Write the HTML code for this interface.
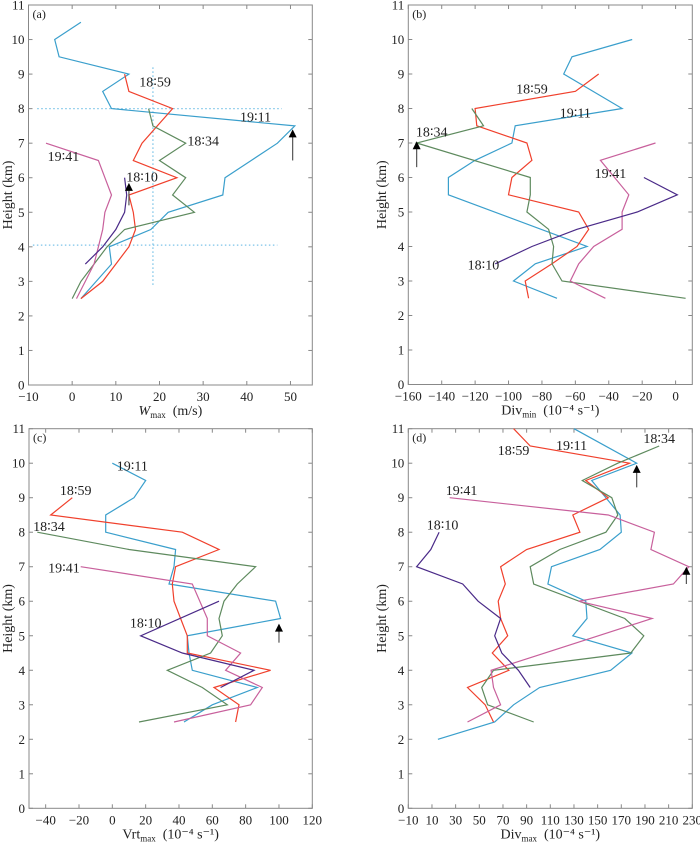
<!DOCTYPE html>
<html><head><meta charset="utf-8">
<style>
body{margin:0;background:#fff;}
svg{display:block;font-family:"Liberation Serif",serif;}
</style></head>
<body>
<svg id="chart" width="700" height="842" viewBox="0 0 700 842"></svg>
<script>
// ---- data ----
const heightTicks=[0,1,2,3,4,5,6,7,8,9,10,11];
const aTicks=[-10,0,10,20,30,40,50];
const bTicks=[-160,-140,-120,-100,-80,-60,-40,-20,0];
const cTicks=[-40,-20,0,20,40,60,80,100,120];
const dTicks=[-10,10,30,50,70,90,110,130,150,170,190,210,230];
const seriesNames=["19:11","18:59","18:34","19:41","18:10"];
const seriesColors=["#3a9fcc","#f0402c","#5e8a5e","#c8609c","#4a2a88"];

const aH_1911=[10.5,10,9.5,9,8.5,8,7.5,7,6.5,6,5.5,5,4.5,4,3.5,2.5];
const aV_1911=[2,-4,-3,13,7,9,51,47,41,35,34.5,22,18,8.5,9,2];
const aH_1859=[9,8.5,8,7,6.5,6,5.5,5,4.5,4,3.5,3,2.5];
const aV_1859=[12,13,23,16,14,24,13,14,14.5,13,10,7,2];
const aH_1834=[8,7.5,7,6.5,6,5.5,5,4.5,4,3.5,3,2.5];
const aV_1834=[17.5,18.5,26,20,26,23,28,12,8,5,2,0];
const aH_1941=[7,6.5,6,5.5,5,4.5,4,3.5,3,2.5];
const aV_1941=[-6,6,7.5,9,7.5,7,6,5,3,1];
const aH_1810=[6,5.5,5,4.5,4,3.5];
const aV_1810=[12,12.5,12,10,7,3];

const bH_1911=[10,9.5,9,8,7.5,7,6.5,6,5.5,4,3.5,3,2.5];
const bV_1911=[-26,-62,-67,-32,-96,-98,-120,-136,-136,-53,-84,-97,-71];
const bH_1859=[9,8.5,8,7.5,7,6.5,6,5.5,5,4.5,4,3.5,3,2.5];
const bV_1859=[-46,-60,-120,-119,-89,-86,-98,-100,-58,-52,-59,-74,-90,-88];
const bH_1834=[8,7.5,7,6,5.5,5,4.5,4,3.5,3,2.5];
const bV_1834=[-122,-115,-155,-87,-87,-89,-76,-73,-74,-68,6];
const bH_1941=[7,6.5,5.5,5,4.5,4,3.5,3,2.5];
const bV_1941=[-12,-45,-28,-32,-32,-49,-58,-63,-42];
const bH_1810=[6,5.5,5,4.5,4,3.5];
const bV_1810=[-19,1,-23,-59,-86,-108];

const cH_1911=[10,9.5,9,8.5,8,7.5,7,6.5,6,5.5,5,4.5,4,3.5,3,2.5];
const cV_1911=[0,20,13,-4,-4,38,37,34,98,101,45,46,48,87,60,43];
const cH_1859=[9,8.5,8,7.5,7,6.5,6,5.5,5,4.5,4,3.5,3,2.5];
const cV_1859=[-24,-37,42,64,38,36,37,41,45,45,95,61,76,74];
const cH_1834=[8,7.5,7,6.5,6,5.5,5,4.5,4,3.5,3,2.5];
const cV_1834=[-45,10,86,75,67,64,66,59,33,54,69,16];
const cH_1941=[7,6.5,5.5,5,4.5,4,3.5,3,2.5];
const cV_1941=[-19,48,57,57,77,68,90,83,37];
const cH_1810=[6,5,4.5,4,3.5];
const cV_1810=[64,17,42,85,65];

const dH_1911=[11,10,9.5,8.5,8,7.5,7,6.5,6,5.5,5,4.5,4,3.5,3,2.5,2];
const dV_1911=[130,183,145,169,170,152,111,108,140,141,129,179,161,101,79,63,15];
const dH_1859=[11,10.5,10,9.5,9,8.5,8,7.5,7,6.5,6,5.5,5,4.5,4,3.5,3,2.5];
const dV_1859=[79,93,177,140,159,129,135,90,68,72,66,68,74,61,75,40,55,62];
const dH_1834=[10.5,10,9.5,9,8.5,8,7.5,7,6.5,5.5,5,4.5,4,3.5,3,2.5];
const dV_1834=[202,167,137,162,167,157,118,93,96,173,189,178,62,52,57,96];
const dH_1941=[9,8.5,8,7.5,7,6.5,6,5.5,4,3.5,3,2.5];
const dV_1941=[25,159,198,195,227,214,134,196,60,62,68,40];
const dH_1810=[8,7.5,7,6.5,6,5.5,5,4.5,4,3.5];
const dV_1810=[16,9,-3,36,49,68,63,69,83,93];

// label anchor positions in series order: 19:11, 18:59, 18:34, 19:41, 18:10
const labelsA=[[42,7.75],[19,8.75],[30,7.05],[-2,6.6],[16,6.0]];
const labelsB=[[-60,7.85],[-86,8.55],[-146,7.3],[-39,6.1],[-115,3.45]];
const labelsC=[[12,9.9],[-22,9.2],[-38,8.15],[-29,6.95],[20,5.35]];
const labelsD=[[128,10.5],[79,10.35],[202,10.7],[35,9.2],[19,8.2]];
// ---- geometry ----
const NS="http://www.w3.org/2000/svg";
const svg=document.getElementById('chart');
function mk(tag,attrs,parent){const e=document.createElementNS(NS,tag);for(const k in attrs)e.setAttribute(k,attrs[k]);(parent||svg).appendChild(e);return e;}

const panels=[
 {id:'a',L:28.5,R:312.3,T:5,B:385,xmin:-10,xmax:55,ticks:aTicks,
  series:[[aV_1911,aH_1911],[aV_1859,aH_1859],[aV_1834,aH_1834],[aV_1941,aH_1941],[aV_1810,aH_1810]],
  labels:labelsA,arrows:[[50.5,7.4,6.5],[13,5.85,5.2]],title:['W','max',' (m/s)'],ylx:12},
 {id:'b',L:408.3,R:692.3,T:5,B:384.5,xmin:-160,xmax:10,ticks:bTicks,
  series:[[bV_1911,bH_1911],[bV_1859,bH_1859],[bV_1834,bH_1834],[bV_1941,bH_1941],[bV_1810,bH_1810]],
  labels:labelsB,arrows:[[-155,7.05,6.3]],title:['Div','min',' (10⁻⁴ s⁻¹)'],ylx:386},
 {id:'c',L:29,R:312.3,T:428.7,B:808.3,xmin:-50,xmax:120,ticks:cTicks,
  series:[[cV_1911,cH_1911],[cV_1859,cH_1859],[cV_1834,cH_1834],[cV_1941,cH_1941],[cV_1810,cH_1810]],
  labels:labelsC,arrows:[[100,5.35,4.8]],title:['Vrt','max',' (10⁻⁴ s⁻¹)'],ylx:12},
 {id:'d',L:408.3,R:692.3,T:428.7,B:808.3,xmin:-10,xmax:230,ticks:dTicks,
  series:[[dV_1911,dH_1911],[dV_1859,dH_1859],[dV_1834,dH_1834],[dV_1941,dH_1941],[dV_1810,dH_1810]],
  labels:labelsD,arrows:[[183,9.95,9.3],[225,7.0,6.5]],title:['Div','max',' (10⁻⁴ s⁻¹)'],ylx:386}
];

panels.forEach(p=>{
 const g=mk('g',{});
 
 
 const X=v=>p.L+(v-p.xmin)/(p.xmax-p.xmin)*(p.R-p.L);
 const Y=h=>p.B-h/11*(p.B-p.T);
 const fr=mk('rect',{x:p.L,y:p.T,width:p.R-p.L,height:p.B-p.T,fill:'none',stroke:'#888','stroke-width':1},g);
 
 
 heightTicks.forEach(h=>{
  const y=Y(h);
  mk('line',{x1:p.L,x2:p.L+4,y1:y,y2:y,stroke:'#888'},g);
  mk('line',{x1:p.R,x2:p.R-4,y1:y,y2:y,stroke:'#888'},g);
  const t=mk('text',{x:p.L-4,y:y+4.5,'text-anchor':'end','font-size':13,fill:'#222'},g);
  t.textContent=h;
  
  
 });
 p.ticks.forEach(v=>{
  const x=X(v);
  mk('line',{x1:x,x2:x,y1:p.B,y2:p.B-4,stroke:'#888'},g);
  mk('line',{x1:x,x2:x,y1:p.T,y2:p.T+4,stroke:'#888'},g);
  const t=mk('text',{x:x,y:p.B+16,'text-anchor':'middle','font-size':13,fill:'#222'},g);
  t.textContent=(v<0?'−'+(-v):v);
  
  
 });
 const pl=mk('text',{x:p.L+4,y:p.T+13,'font-size':12,fill:'#222'},g);
 pl.textContent='('+p.id+')';
 
 
 if(p.id==='a'){
  const dl=[[[-8,8],[48,8]],[[-9,4.05],[47,4.05]],[[18.5,2.9],[18.5,9.2]]];
  dl.forEach(s=>{
   const l=mk('line',{x1:X(s[0][0]),y1:Y(s[0][1]),x2:X(s[1][0]),y2:Y(s[1][1]),stroke:'#7cc4e8','stroke-width':1.3,'stroke-dasharray':'1.5,2.5'},g);
   
   
  });
 }
 p.series.forEach((s,i)=>{
  const pts=s[0].map((v,k)=>X(v).toFixed(1)+','+Y(s[1][k]).toFixed(1)).join(' ');
  const pl2=mk('polyline',{points:pts,fill:'none',stroke:seriesColors[i],'stroke-width':1.2},g);
  
  
  const lb=p.labels[i];
  const t=mk('text',{x:X(lb[0]),y:Y(lb[1])+4,'text-anchor':'middle','font-size':14,fill:'#222'},g);
  t.textContent=seriesNames[i].replace(':','∶');
  
  
 });
 p.arrows.forEach(a=>{
  const x=X(a[0]),yt=Y(a[1]),yb=Y(a[2]);
  const l=mk('line',{x1:x,x2:x,y1:yt+6,y2:yb,stroke:'#555','stroke-width':1.2},g);
  
  
  const h=mk('polygon',{points:`${x},${yt} ${x-4},${yt+8} ${x+4},${yt+8}`,fill:'#000'},g);
  
  
 });
 const cx=(p.L+p.R)/2;
 const xt=mk('text',{x:cx,y:p.B+30,'text-anchor':'middle','font-size':14,fill:'#222'},g);
 
 
 const t1=mk('tspan',{'font-style':p.id==='a'?'italic':'normal'},xt);t1.textContent=p.title[0];
 const t2=mk('tspan',{'font-size':9,dy:3},xt);t2.textContent=p.title[1];
 const t3=mk('tspan',{dy:-3},xt);t3.textContent='\u00a0'+p.title[2];
 const yt=mk('text',{x:p.ylx,y:(p.T+p.B)/2,'text-anchor':'middle','font-size':14,fill:'#222',transform:`rotate(-90 ${p.ylx} ${(p.T+p.B)/2})`},g);
 yt.textContent='Height  (km)';
 
 
});
</script>
</body></html>
